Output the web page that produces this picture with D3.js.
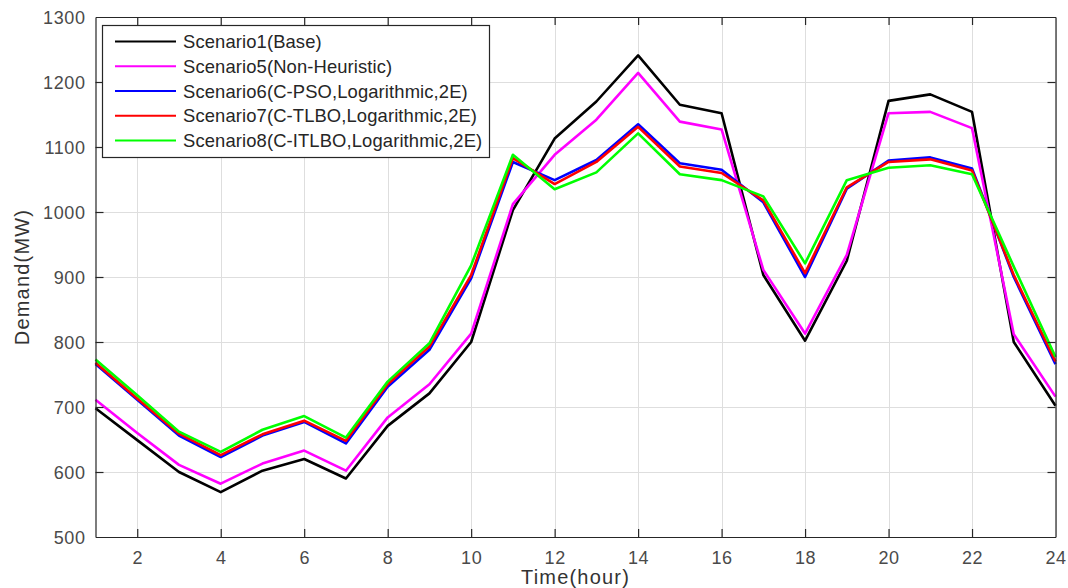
<!DOCTYPE html>
<html>
<head>
<meta charset="utf-8">
<script src="https://cdn.jsdelivr.net/npm/d3@7"></script>
<style>
  html, body { margin: 0; padding: 0; background: #fff; }
  svg text { font-family: Arial, "Liberation Sans", Helvetica, sans-serif; }
</style>
</head>
<body>
<svg id="chart" width="1068" height="588"></svg>
<script>
// Hourly demand (MW) for each scenario, hours 1..24
const hours = d3.range(1, 25);
const scenario1 = [698, 649, 600, 569, 602, 620, 590, 671, 721, 800, 1003, 1113, 1170, 1241, 1165, 1152, 903, 802, 925, 1171, 1181, 1154, 800, 702];
const scenario5 = [711, 660, 611, 582, 613, 633, 602, 684, 735, 813, 1012, 1088, 1142, 1214, 1139, 1127, 911, 813, 934, 1152, 1154, 1129, 812, 716];
const scenario6 = [766, 711, 656, 623, 656, 677, 644, 731, 788, 898, 1077, 1049, 1080, 1135, 1075, 1065, 1015, 900, 1036, 1079, 1084, 1067, 900, 766];
const scenario7 = [768, 713, 659, 626, 658, 679, 648, 735, 793, 903, 1083, 1043, 1077, 1131, 1070, 1060, 1018, 906, 1038, 1077, 1081, 1064, 903, 770];
const scenario8 = [773, 718, 662, 631, 665, 686, 653, 739, 798, 918, 1088, 1035, 1061, 1121, 1058, 1049, 1024, 921, 1049, 1068, 1072, 1058, 916, 777];

const seriesNames = [
  "Scenario1(Base)",
  "Scenario5(Non-Heuristic)",
  "Scenario6(C-PSO,Logarithmic,2E)",
  "Scenario7(C-TLBO,Logarithmic,2E)",
  "Scenario8(C-ITLBO,Logarithmic,2E)"
];
const seriesValues = [scenario1, scenario5, scenario6, scenario7, scenario8];
const seriesColors = ["#000000", "#ff00ff", "#0000ff", "#ff0000", "#00ff00"];

const xTicks = d3.range(2, 25, 2);
const yTicks = d3.range(500, 1301, 100);

const svg = d3.select("#chart");
const plotLeft = 95.5, plotRight = 1055.5, plotTop = 17, plotBottom = 537;

const x = d3.scaleLinear().domain([1, 24]).range([plotLeft, plotRight]);
const y = d3.scaleLinear().domain([500, 1300]).range([plotBottom, plotTop]);

// grid
const grid = svg.append("g").attr("stroke", "#dedede").attr("stroke-width", 1);
grid.selectAll(".gx").data(xTicks).join("line")
  .attr("x1", d => Math.round(x(d)) + 0.5).attr("x2", d => Math.round(x(d)) + 0.5)
  .attr("y1", plotTop).attr("y2", plotBottom);
grid.selectAll(".gy").data(yTicks).join("line")
  .attr("x1", plotLeft).attr("x2", plotRight)
  .attr("y1", d => Math.round(y(d)) + 0.5).attr("y2", d => Math.round(y(d)) + 0.5);

// series lines
const line = d3.line().x((d, i) => x(hours[i])).y(d => y(d));
const plot = svg.append("g");
seriesValues.forEach((vals, k) => {
  plot.append("path")
    .datum(vals)
    .attr("fill", "none")
    .attr("stroke", seriesColors[k])
    .attr("stroke-width", 2.6)
    .attr("stroke-linejoin", "round")
    .attr("d", line);
});

// axes box with inward ticks on all four sides
const axisColor = "#262626";
const tickLen = 8;
const fmt = d3.format("d");
const axBottom = svg.append("g").attr("transform", `translate(0,${plotBottom})`)
  .call(d3.axisBottom(x).tickValues(xTicks).tickFormat(fmt).tickSizeInner(-tickLen).tickSizeOuter(0).tickPadding(14));
const axTop = svg.append("g").attr("transform", `translate(0,${plotTop})`)
  .call(d3.axisTop(x).tickValues(xTicks).tickSizeInner(-tickLen).tickSizeOuter(0).tickFormat(""));
const axLeft = svg.append("g").attr("transform", `translate(${plotLeft},0)`)
  .call(d3.axisLeft(y).tickValues(yTicks).tickFormat(fmt).tickSizeInner(-tickLen).tickSizeOuter(0).tickPadding(10));
const axRight = svg.append("g").attr("transform", `translate(${plotRight},0)`)
  .call(d3.axisRight(y).tickValues(yTicks).tickSizeInner(-tickLen).tickSizeOuter(0).tickFormat(""));

[axBottom, axTop, axLeft, axRight].forEach(g => {
  g.select(".domain").attr("stroke", axisColor).attr("stroke-width", 1.2);
  g.selectAll(".tick line").attr("stroke", axisColor).attr("stroke-width", 1.2);
  g.selectAll(".tick text")
    .attr("fill", "#4a4a4a")
    .style("font-size", "18px")
    .style("letter-spacing", "0.6px");
});
// drop the end ticks that coincide with the box edges
axLeft.selectAll(".tick").filter(d => d === 500 || d === 1300).select("line").remove();
axRight.selectAll(".tick").filter(d => d === 500 || d === 1300).select("line").remove();
axBottom.selectAll(".tick").filter(d => d === 24).select("line").remove();
axTop.selectAll(".tick").filter(d => d === 24).select("line").remove();
axLeft.selectAll(".tick text").attr("dy", "0.36em");

// axis titles
svg.append("text")
  .attr("x", (plotLeft + plotRight) / 2).attr("y", 584)
  .attr("text-anchor", "middle")
  .attr("fill", "#333")
  .style("font-size", "20px")
  .style("letter-spacing", "1.2px")
  .text("Time(hour)");
svg.append("text")
  .attr("transform", `translate(29,277) rotate(-90)`)
  .attr("text-anchor", "middle")
  .attr("fill", "#333")
  .style("font-size", "20px")
  .style("letter-spacing", "1.2px")
  .text("Demand(MW)");

// legend
const legend = svg.append("g");
legend.append("rect")
  .attr("x", 102.5).attr("y", 25.5).attr("width", 387).attr("height", 132)
  .attr("fill", "#fff").attr("stroke", axisColor).attr("stroke-width", 1.2);
const rowY = d3.scaleLinear().domain([0, 4]).range([41.5, 140.5]);
seriesNames.forEach((name, k) => {
  legend.append("line")
    .attr("x1", 115).attr("x2", 176)
    .attr("y1", rowY(k)).attr("y2", rowY(k))
    .attr("stroke", seriesColors[k]).attr("stroke-width", 2.2);
  legend.append("text")
    .attr("x", 183).attr("y", rowY(k))
    .attr("dy", "0.36em")
    .attr("fill", "#262626")
    .style("font-size", "18.4px")
    .style("letter-spacing", "0.12px")
    .text(name);
});
</script>
</body>
</html>
